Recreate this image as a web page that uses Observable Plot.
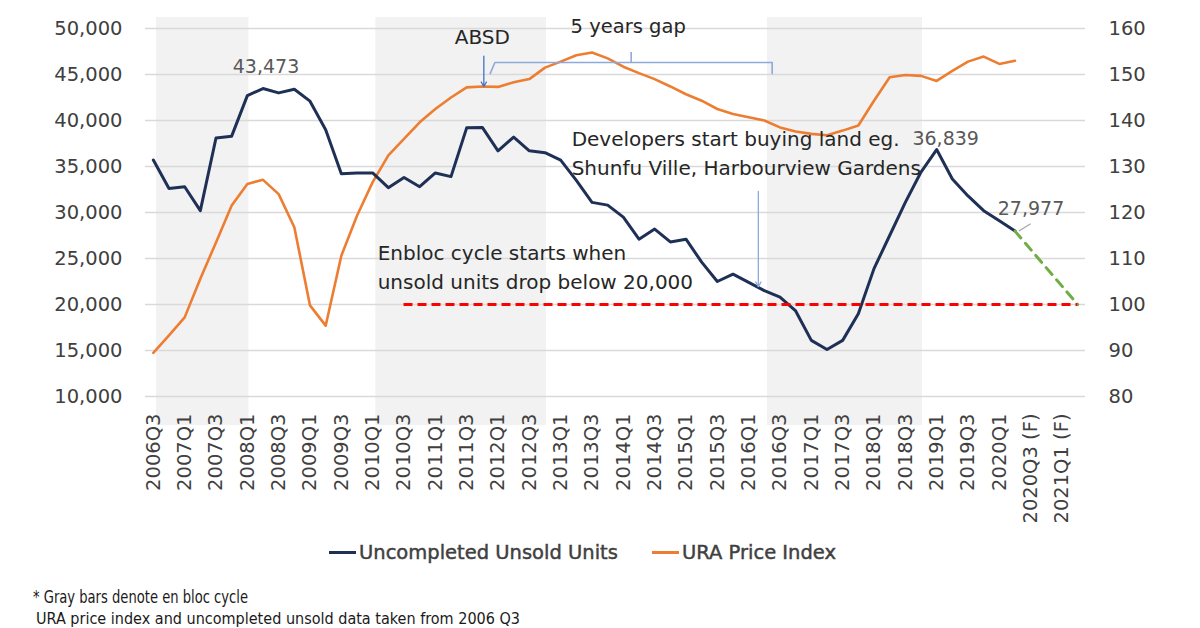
<!DOCTYPE html>
<html>
<head>
<meta charset="utf-8">
<script src="https://cdn.jsdelivr.net/npm/d3@7"></script>
<script src="https://cdn.jsdelivr.net/npm/@observablehq/plot@0.6"></script>
<style>
  html, body { margin: 0; padding: 0; background: #fff; }
  body { width: 1200px; height: 628px; overflow: hidden; font-family: "DejaVu Sans", sans-serif; }
  #wrap { position: relative; width: 1200px; height: 628px; overflow: hidden; }
  #chart { position: absolute; left: 0; top: 0; }
  .leg { position: absolute; top: 541px; display: flex; align-items: center; font-size: 19.5px; color: #404040; white-space: nowrap; -webkit-text-stroke: 0.45px #404040; }
  .leg .sw { width: 27px; height: 3px; margin-right: 3px; }
  #footer { position: absolute; left: 0; top: 586px; }
</style>
</head>
<body>
<div id="wrap">
  <div id="chart"></div>
  <div class="leg" style="left:329px"><span class="sw" style="background:#1f3057"></span><span>Uncompleted Unsold Units</span></div>
  <div class="leg" style="left:652px"><span class="sw" style="background:#ed7d31"></span><span>URA Price Index</span></div>
  <svg id="footer" width="600" height="42">
    <text x="33" y="17" textLength="215" lengthAdjust="spacingAndGlyphs" font-family="DejaVu Sans Condensed, DejaVu Sans, sans-serif" font-size="17.5" fill="#1a1a1a">* Gray bars denote en bloc cycle</text>
    <text x="36" y="37.5" textLength="484" lengthAdjust="spacingAndGlyphs" font-family="DejaVu Sans Condensed, DejaVu Sans, sans-serif" font-size="15" fill="#1a1a1a">URA price index and uncompleted unsold data taken from 2006 Q3</text>
  </svg>
</div>
<script>
// ---- categories (quarters) ----
const categories = [
  "2006Q3","2006Q4","2007Q1","2007Q2","2007Q3","2007Q4",
  "2008Q1","2008Q2","2008Q3","2008Q4","2009Q1","2009Q2","2009Q3","2009Q4",
  "2010Q1","2010Q2","2010Q3","2010Q4","2011Q1","2011Q2","2011Q3","2011Q4",
  "2012Q1","2012Q2","2012Q3","2012Q4","2013Q1","2013Q2","2013Q3","2013Q4",
  "2014Q1","2014Q2","2014Q3","2014Q4","2015Q1","2015Q2","2015Q3","2015Q4",
  "2016Q1","2016Q2","2016Q3","2016Q4","2017Q1","2017Q2","2017Q3","2017Q4",
  "2018Q1","2018Q2","2018Q3","2018Q4","2019Q1","2019Q2","2019Q3","2019Q4",
  "2020Q1","2020Q2","2020Q3 (F)","2020Q4 (F)","2021Q1 (F)","2021Q2 (F)"
];
// tick labels shown on the x axis (every second quarter)
const tickLabels = [
  "2006Q3","2007Q1","2007Q3","2008Q1","2008Q3","2009Q1","2009Q3","2010Q1",
  "2010Q3","2011Q1","2011Q3","2012Q1","2012Q3","2013Q1","2013Q3","2014Q1",
  "2014Q3","2015Q1","2015Q3","2016Q1","2016Q3","2017Q1","2017Q3","2018Q1",
  "2018Q3","2019Q1","2019Q3","2020Q1","2020Q3 (F)","2021Q1 (F)"
];
// Uncompleted unsold units, 2006Q3 .. 2020Q2
const unsold = [
  35700, 32600, 32800, 30200, 38100, 38300,
  42700, 43473, 43000, 43400, 42100, 39000, 34200, 34300,
  34300, 32700, 33800, 32800, 34300, 33900, 39200, 39250,
  36700, 38200, 36700, 36500, 35700, 33500, 31100, 30800,
  29500, 27100, 28200, 26800, 27100, 24600, 22500, 23300,
  22400, 21500, 20800, 19300, 16100, 15100, 16100, 19000,
  23900, 27500, 31100, 34400, 36839, 33650, 31800, 30200,
  29100, 27977
];
// URA price index, 2006Q3 .. 2020Q2 (right axis)
const price = [
  89.5, 93.3, 97.2, 105.6, 113.5, 121.5,
  126.2, 127.1, 124.0, 116.8, 99.8, 95.4, 110.6, 119.3,
  126.6, 132.4, 136.0, 139.6, 142.5, 145.0, 147.2, 147.4,
  147.3, 148.3, 149.0, 151.5, 152.8, 154.2, 154.8, 153.5,
  151.7, 150.3, 149.0, 147.4, 145.7, 144.3, 142.5, 141.4,
  140.7, 140.0, 138.5, 137.6, 137.1, 136.8, 137.8, 138.9,
  144.3, 149.4, 149.9, 149.7, 148.6, 150.8, 152.8, 153.9,
  152.3, 153.0
];
// forecast of unsold units
const forecastQuarters = ["2020Q2", "2021Q2 (F)"];
const forecastValues = [27977, 20000];
// en bloc cycles (gray bars)
const cycleFrom = ["2006Q3", "2010Q1", "2016Q2"];
const cycleTo   = ["2008Q1", "2012Q4", "2018Q4"];
// threshold
const threshold = 20000;
const thresholdFrom = "2010Q3";
// axis ticks
const leftTicks = [10000, 15000, 20000, 25000, 30000, 35000, 40000, 45000, 50000];
const rightTicks = [80, 90, 100, 110, 120, 130, 140, 150, 160];
// labelled points
const labelledQuarters = ["2008Q2", "2019Q1", "2020Q2"];
// events
const absdQuarter = "2011Q4";
const gapEndQuarter = "2016Q3";
const developersQuarter = "2016Q2";

// ---- helpers ----
const idx = q => categories.indexOf(q);
const toLeft = r => 10000 + (r - 80) * 500;
const fromLeft = v => 80 + (v - 10000) / 500;
const fmt = d3.format(",");

const unsoldData = unsold.map((v, i) => ({i, v}));
const priceData = price.map((v, i) => ({i, v: toLeft(v)}));
const forecastData = forecastQuarters.map((q, k) => ({i: idx(q), v: forecastValues[k]}));
const cycles = cycleFrom.map((f, k) => ({x1: idx(f) + 0.2, x2: idx(cycleTo[k]) + 0.1}));
const labelled = labelledQuarters.map(q => ({i: idx(q), v: unsold[idx(q)], t: fmt(unsold[idx(q)])}));

const gx1 = idx(absdQuarter) + 0.5, gx2 = idx(gapEndQuarter) - 0.5, gmid = (gx1 + gx2) / 2;
const bracketY = 46300;
const bracket = [
  {i: gx1, v: bracketY - 1200}, {i: gx1 + 0.3, v: bracketY}, {i: gx2, v: bracketY}, {i: gx2, v: bracketY - 1200}
];
const devX = idx(developersQuarter);
const last = labelled[2];

const textStyle = {fontSize: 20, fill: "#262626", fontFamily: "DejaVu Sans"};
const tickStyle = {fontSize: 19.5, fill: "#404040", stroke: "#404040", strokeWidth: 0.4, label: null, tickSize: 0};

const chart = Plot.plot({
  width: 1200,
  height: 530,
  marginLeft: 145,
  marginRight: 115,
  marginTop: 17,
  marginBottom: 105,
  x: {type: "linear", domain: [-0.5, categories.length - 0.5], axis: null},
  y: {domain: [10000, 50000], insetTop: 11, insetBottom: 29, axis: null},
  style: {fontFamily: "DejaVu Sans", fontSize: "19.5px", color: "#404040", background: "transparent", overflow: "visible"},
  marks: [
    Plot.rect(cycles, {x1: "x1", x2: "x2", fill: "#f2f2f2"}),
    Plot.ruleY(leftTicks, {stroke: "#d9d9d9", strokeWidth: 1.4}),
    Plot.axisY(leftTicks, {anchor: "left", tickPadding: 23, tickFormat: fmt, ...tickStyle}),
    Plot.axisY(rightTicks.map(toLeft), {anchor: "right", tickPadding: 23, tickFormat: v => String(fromLeft(v)), ...tickStyle}),
    Plot.axisX(tickLabels.map(idx), {anchor: "bottom", tickPadding: 0, tickRotate: -90, tickFormat: i => categories[i], dy: -12, ...tickStyle}),
    Plot.line(priceData, {x: "i", y: "v", stroke: "#ed7d31", strokeWidth: 2.6}),
    Plot.line(unsoldData, {x: "i", y: "v", stroke: "#1f3057", strokeWidth: 3}),
    Plot.line(forecastData, {x: "i", y: "v", stroke: "#70ad47", strokeWidth: 3, strokeDasharray: "9,7"}),
    Plot.ruleY([threshold], {x1: idx(thresholdFrom), x2: categories.length - 1, stroke: "#ff0000", strokeWidth: 3, strokeDasharray: "9,5"}),
    // point labels
    Plot.text(labelled.slice(0, 1), {x: "i", y: "v", text: "t", dx: 3, dy: -22, fontSize: 19, fill: "#595959"}),
    Plot.text(labelled.slice(1, 2), {x: "i", y: "v", text: "t", dx: 9, dy: -11, fontSize: 19, fill: "#595959"}),
    Plot.text(labelled.slice(2, 3), {x: "i", y: "v", text: "t", dx: 16, dy: -22, fontSize: 19, fill: "#595959"}),
    Plot.link([last], {x1: d => d.i + 0.25, y1: "v", x2: d => d.i + 1.0, y2: d => d.v + 800, stroke: "#a6a6a6", strokeWidth: 1.2}),
    // ABSD
    Plot.text([{i: idx(absdQuarter), v: 50000}], {x: "i", y: "v", text: () => "ABSD", dy: 9, ...textStyle}),
    Plot.arrow([{x: idx(absdQuarter), y1: 47000, y2: toLeft(price[idx(absdQuarter)])}], {x1: "x", x2: "x", y1: "y1", y2: "y2", dx: 1.5, stroke: "#4472c4", strokeWidth: 1.3, headLength: 6}),
    // 5 years gap bracket
    Plot.line(bracket, {x: "i", y: "v", stroke: "#8eaadb", strokeWidth: 1.6}),
    Plot.ruleX([gmid], {y1: bracketY, y2: bracketY + 1100, stroke: "#8eaadb", strokeWidth: 1.6}),
    Plot.text([{i: gmid, v: 50000}], {x: "i", y: "v", text: () => "5 years gap", dx: -3, dy: -2, ...textStyle, fontSize: 19.5}),
    // developers
    Plot.text([{i: idx("2013Q1"), v: 40000}], {x: "i", y: "v", text: () => "Developers start buying land eg.\nShunfu Ville, Harbourview Gardens", textAnchor: "start", lineAnchor: "top", lineHeight: 1.45, dx: 11, dy: 5, ...textStyle}),
    Plot.arrow([{x: devX, y1: 32300, y2: (unsold[devX - 1] + unsold[devX]) / 2}], {x1: "x", x2: "x", y1: "y1", y2: "y2", dx: -6, stroke: "#8eaadb", strokeWidth: 1.3, headLength: 6}),
    // enbloc
    Plot.text([{i: idx("2010Q1"), v: threshold}], {x: "i", y: "v", text: () => "Enbloc cycle starts when\nunsold units drop below 20,000", textAnchor: "start", lineAnchor: "bottom", lineHeight: 1.45, dx: 5, dy: -16, ...textStyle})
  ]
});
document.getElementById("chart").appendChild(chart);
</script>
</body>
</html>
